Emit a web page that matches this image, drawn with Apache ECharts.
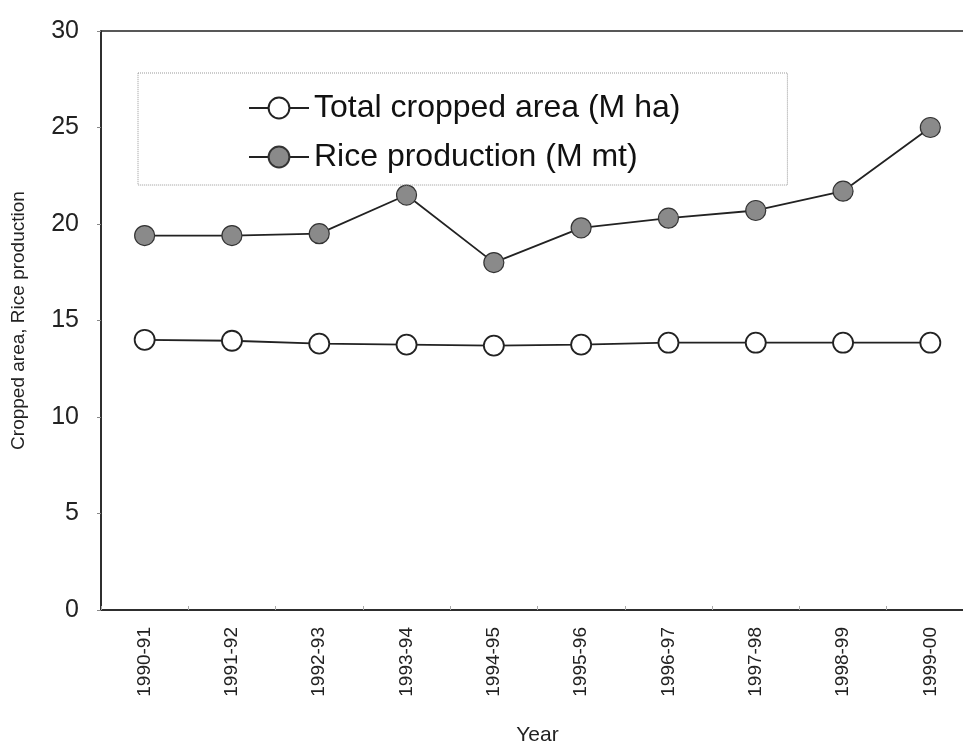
<!DOCTYPE html>
<html><head><meta charset="utf-8">
<script src="https://cdn.jsdelivr.net/npm/echarts@6/dist/echarts.min.js"></script>
<style>html,body{margin:0;padding:0;background:#fff;overflow:hidden}#c{width:974px;height:742px}</style>
</head><body><div id="c"></div>
<script>
const categories = ['1990-91','1991-92','1992-93','1993-94','1994-95','1995-96','1996-97','1997-98','1998-99','1999-00'];
const croppedArea = [14.0, 13.95, 13.8, 13.75, 13.7, 13.75, 13.85, 13.85, 13.85, 13.85];
const riceProduction = [19.4, 19.4, 19.5, 21.5, 18.0, 19.8, 20.3, 20.7, 21.7, 25.0];
const seriesNames = ['Total cropped area (M ha)', 'Rice production (M mt)'];
const yTicks = [0, 5, 10, 15, 20, 25, 30];

const chart = echarts.init(document.getElementById('c'));
const font = 'Liberation Sans, Arial, sans-serif';
chart.setOption({
  animation: false,
  textStyle: { fontFamily: font },
  grid: { left: 101, right: 0, top: 31, bottom: 132, outerBoundsMode: 'none', containLabel: false,
    show: true, borderColor: '#222', borderWidth: 1.5, backgroundColor: 'transparent' },
  legend: {
    orient: 'vertical', left: 138, top: 73,
    padding: [17, 107, 10, 110],
    borderColor: '#999', borderWidth: 1, borderType: 'dotted',
    itemWidth: 60, itemHeight: 26, itemGap: 13,
    textStyle: { fontSize: 32, color: '#111', fontFamily: font, lineHeight: 36 },
    data: seriesNames
  },
  xAxis: {
    type: 'category', data: categories, boundaryGap: true,
    name: 'Year', nameLocation: 'middle', nameGap: 115,
    nameTextStyle: { fontSize: 21, color: '#222', fontFamily: font },
    axisLine: { lineStyle: { color: '#222', width: 1.5 } },
    axisTick: { show: true, inside: true, length: 4, lineStyle: { color: '#aaa' } },
    axisLabel: { rotate: 90, fontSize: 19, color: '#222', margin: 17, fontFamily: font }
  },
  yAxis: {
    type: 'value', min: 0, max: 30, interval: 5,
    name: 'Cropped area, Rice production', nameLocation: 'middle', nameGap: 73,
    nameTextStyle: { fontSize: 19, color: '#222', fontFamily: font },
    axisLine: { show: true, lineStyle: { color: '#222', width: 1.5 } },
    axisTick: { show: true, length: 4, lineStyle: { color: '#888' } },
    splitLine: { show: false },
    axisLabel: { fontSize: 25, color: '#222', margin: 22, fontFamily: font,
      formatter: v => yTicks.includes(v) ? String(v) : '' }
  },
  series: [
    { name: seriesNames[0], type: 'line', data: croppedArea, symbol: 'circle', symbolSize: 20,
      lineStyle: { color: '#222', width: 1.8 },
      itemStyle: { color: '#fff', borderColor: '#222', borderWidth: 1.8 } },
    { name: seriesNames[1], type: 'line', data: riceProduction, symbol: 'circle', symbolSize: 20,
      lineStyle: { color: '#222', width: 1.8 },
      itemStyle: { color: '#8a8a8a', borderColor: '#333', borderWidth: 1.2 } }
  ]
});
</script></body></html>
